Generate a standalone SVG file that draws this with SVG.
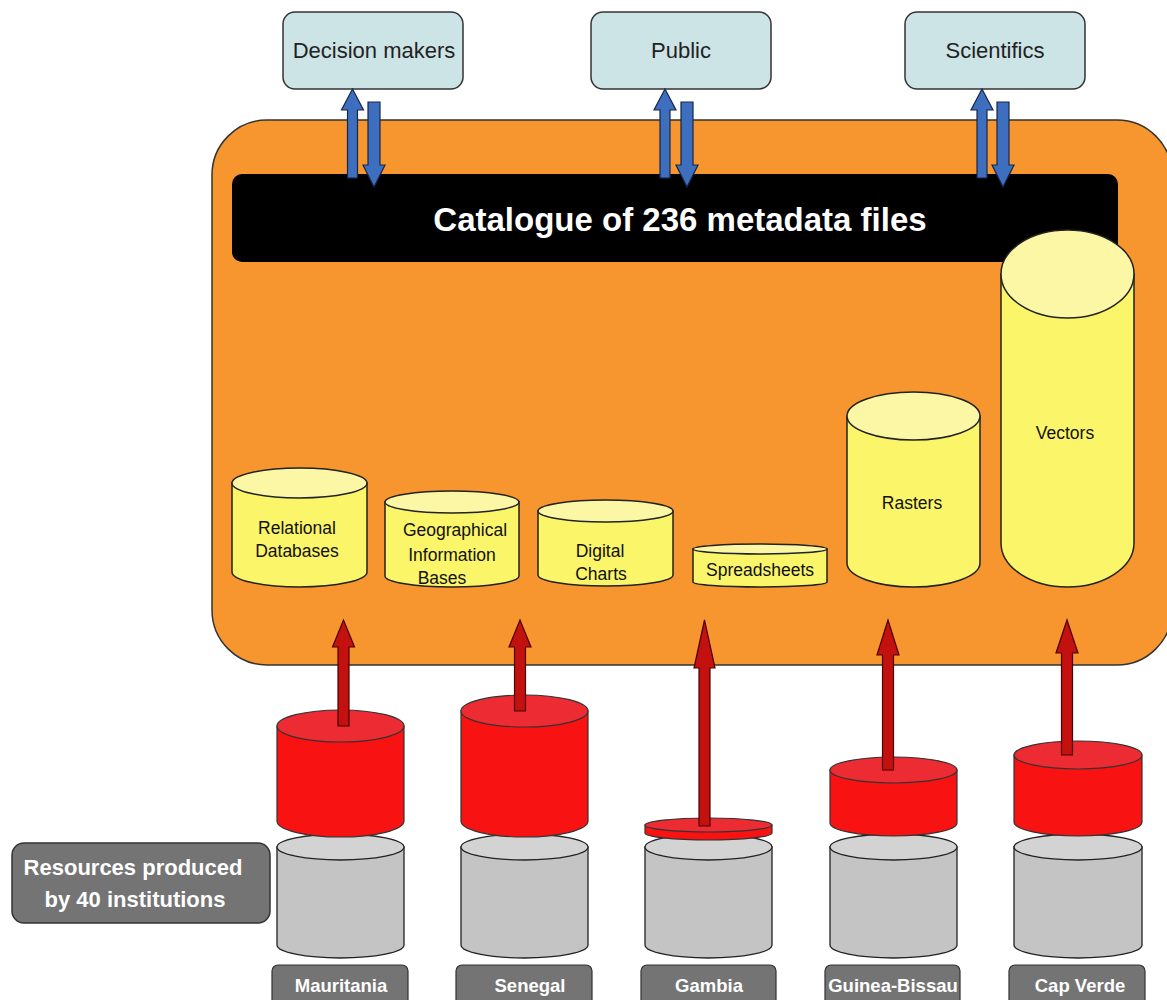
<svg xmlns="http://www.w3.org/2000/svg" width="1167" height="1000" viewBox="0 0 1167 1000">
<style>
text{font-family:"Liberation Sans",Arial,sans-serif}
.top rect{fill:#cde4e6;stroke:#333;stroke-width:1.5}
.top text{font-size:22px;fill:#222;text-anchor:middle}
.yb{fill:#fbf56a;stroke:#222;stroke-width:1.5}
.yt{fill:#fcf7a4;stroke:#222;stroke-width:1.5}
.yl{font-size:17.5px;fill:#111;text-anchor:middle}
.rb{fill:#f81212;stroke:#333;stroke-width:1.2}
.rt{fill:#ec2b33;stroke:#333;stroke-width:1.2}
.gb{fill:#c4c4c4;stroke:#222;stroke-width:1.3}
.gt{fill:#d3d3d3;stroke:#222;stroke-width:1.3}
.lab rect{fill:#747474;stroke:#333;stroke-width:1.2}
.lab text{font-size:18.5px;font-weight:bold;fill:#fff;text-anchor:middle}
.ba{fill:#3d6fbe;stroke:#16264a;stroke-width:1.2}
.ra{fill:#c3110f;stroke:#4a0000;stroke-width:1.2}
</style>

<g id="container">
<rect x="212" y="120" width="960" height="545" rx="55" fill="#f7962e" stroke="#333" stroke-width="1.5"/>
</g>

<g id="catalogue">
<rect x="232" y="174" width="886" height="88" rx="10" fill="#000"/>
<text x="680" y="231" font-size="33" font-weight="bold" fill="#fff" text-anchor="middle">Catalogue of 236 metadata files</text>
</g>

<g id="decision-makers" class="top">
<rect x="283" y="12" width="180" height="77" rx="12"/>
<text x="374" y="58">Decision makers</text>
</g>
<g id="public" class="top">
<rect x="591" y="12" width="180" height="77" rx="12"/>
<text x="681" y="58">Public</text>
</g>
<g id="scientifics" class="top">
<rect x="905" y="12" width="180" height="77" rx="12"/>
<text x="995" y="58">Scientifics</text>
</g>

<g id="relational-databases">
<path class="yb" d="M232,483 V572 A67.5,15 0 0 0 367,572 V483 Z"/>
<ellipse class="yt" cx="299.5" cy="483" rx="67.5" ry="15"/>
<text class="yl" x="297" y="534">Relational</text>
<text class="yl" x="297" y="557">Databases</text>
</g>
<g id="geographical-information-bases">
<path class="yb" d="M385,502 V576 A67,11 0 0 0 519,576 V502 Z"/>
<ellipse class="yt" cx="452" cy="502" rx="67" ry="11"/>
<text class="yl" x="455" y="536">Geographical</text>
<text class="yl" x="452" y="561">Information</text>
<text class="yl" x="442" y="584">Bases</text>
</g>
<g id="digital-charts">
<path class="yb" d="M538,511 V575 A67.5,11 0 0 0 673,575 V511 Z"/>
<ellipse class="yt" cx="605.5" cy="511" rx="67.5" ry="11"/>
<text class="yl" x="600" y="557">Digital</text>
<text class="yl" x="601" y="580">Charts</text>
</g>
<g id="spreadsheets">
<path class="yb" d="M693,549 V582 A67,5 0 0 0 827,582 V549 Z"/>
<ellipse class="yt" cx="760" cy="549" rx="67" ry="5"/>
<text class="yl" x="760" y="576">Spreadsheets</text>
</g>
<g id="rasters">
<path class="yb" d="M847,416 V563 A66.5,24 0 0 0 980,563 V416 Z"/>
<ellipse class="yt" cx="913.5" cy="416" rx="66.5" ry="24"/>
<text class="yl" x="912" y="509">Rasters</text>
</g>
<g id="vectors">
<path class="yb" d="M1001,274 V543 A66.5,44 0 0 0 1134,543 V274 Z"/>
<ellipse class="yt" cx="1067.5" cy="274" rx="66.5" ry="44"/>
<text class="yl" x="1065" y="439">Vectors</text>
</g>

<g id="resources">
<rect x="12" y="843" width="258" height="80" rx="12" fill="#747474" stroke="#333" stroke-width="1.5"/>
<text x="133" y="875" font-size="22" font-weight="bold" fill="#fff" text-anchor="middle">Resources produced</text>
<text x="135" y="907" font-size="22" font-weight="bold" fill="#fff" text-anchor="middle">by 40 institutions</text>
</g>

<g id="mauritania">
<path class="gb" d="M277,847 V945 A63.5,13 0 0 0 404,945 V847 Z"/>
<ellipse class="gt" cx="340.5" cy="847" rx="63.5" ry="13"/>
<path class="rb" d="M277,726 V821 A63.5,16 0 0 0 404,821 V726 Z"/>
<ellipse class="rt" cx="340.5" cy="726" rx="63.5" ry="16"/>
<g class="lab"><rect x="272" y="965" width="136" height="45" rx="6"/><text x="341" y="992">Mauritania</text></g>
</g>
<g id="senegal">
<path class="gb" d="M461,847 V945 A63.5,13 0 0 0 588,945 V847 Z"/>
<ellipse class="gt" cx="524.5" cy="847" rx="63.5" ry="13"/>
<path class="rb" d="M461,711 V821 A63.5,16 0 0 0 588,821 V711 Z"/>
<ellipse class="rt" cx="524.5" cy="711" rx="63.5" ry="16"/>
<g class="lab"><rect x="456" y="965" width="136" height="45" rx="6"/><text x="530" y="992">Senegal</text></g>
</g>
<g id="gambia">
<path class="gb" d="M645,847 V945 A63.5,13 0 0 0 772,945 V847 Z"/>
<ellipse class="gt" cx="708.5" cy="847" rx="63.5" ry="13"/>
<path class="rb" d="M645,825 V833 A63.5,7 0 0 0 772,833 V825 Z"/>
<ellipse class="rt" cx="708.5" cy="825" rx="63.5" ry="7"/>
<g class="lab"><rect x="641" y="965" width="135" height="45" rx="6"/><text x="709" y="992">Gambia</text></g>
</g>
<g id="guinea-bissau">
<path class="gb" d="M830,847 V945 A63.5,13 0 0 0 957,945 V847 Z"/>
<ellipse class="gt" cx="893.5" cy="847" rx="63.5" ry="13"/>
<path class="rb" d="M830,770 V823 A63.5,13 0 0 0 957,823 V770 Z"/>
<ellipse class="rt" cx="893.5" cy="770" rx="63.5" ry="13"/>
<g class="lab"><rect x="825" y="965" width="135" height="45" rx="6"/><text x="893" y="992">Guinea-Bissau</text></g>
</g>
<g id="cap-verde">
<path class="gb" d="M1014,847 V945 A64,13 0 0 0 1142,945 V847 Z"/>
<ellipse class="gt" cx="1078" cy="847" rx="64" ry="13"/>
<path class="rb" d="M1014,755 V822 A64,14 0 0 0 1142,822 V755 Z"/>
<ellipse class="rt" cx="1078" cy="755" rx="64" ry="14"/>
<g class="lab"><rect x="1009" y="965" width="136" height="45" rx="6"/><text x="1080" y="992">Cap Verde</text></g>
</g>

<g id="connectors">
<polygon class="ba" points="347.5,178 347.5,110 341.5,110 352.5,89 363.5,110 357.5,110 357.5,178"/>
<polygon class="ba" points="368,102 380,102 380,165 385,165 374,187 363,165 368,165"/>
<polygon class="ba" points="660,178 660,110 654,110 665,89 676,110 670,110 670,178"/>
<polygon class="ba" points="681,102 693,102 693,165 698,165 687,187 676,165 681,165"/>
<polygon class="ba" points="977,178 977,110 971,110 982,89 993,110 987,110 987,178"/>
<polygon class="ba" points="997,102 1009,102 1009,165 1014,165 1003,187 992,165 997,165"/>
<polygon class="ra" points="338,726 338,647 332.5,647 343.5,620 354.5,647 349,647 349,726"/>
<polygon class="ra" points="514.5,711 514.5,647 509,647 520,620 531,647 525.5,647 525.5,711"/>
<polygon class="ra" points="699,826 699,668 694,668 704.5,620 715,668 710,668 710,826"/>
<polygon class="ra" points="882.5,770 882.5,655 877,655 888,620 899,655 893.5,655 893.5,770"/>
<polygon class="ra" points="1061.5,755 1061.5,653 1056,653 1067,620 1078,653 1072.5,653 1072.5,755"/>
</g>
</svg>
